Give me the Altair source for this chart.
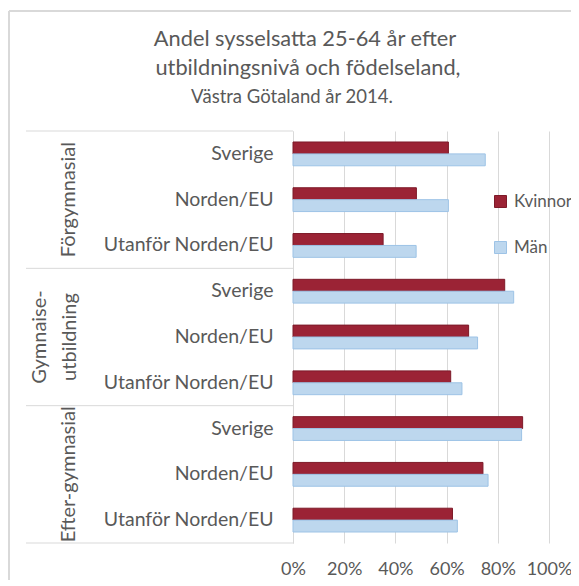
import altair as alt
import pandas as pd

groups = ["Förgymnasial", "Gymnaise-\nutbildning", "Efter-gymnasial"]
countries = ["Sverige", "Norden/EU", "Utanför Norden/EU"]
series = ["Kvinnor", "Män"]
kvinnor = [60.7, 48.2, 35.2, 82.7, 68.6, 61.6, 89.7, 74.2, 62.3]
man = [75.1, 60.7, 48.1, 86.2, 72.1, 66.0, 89.3, 76.2, 64.2]
x_ticks = [0, 20, 40, 60, 80, 100]
title_lines = ["Andel sysselsatta 25-64 år efter", "utbildningsnivå och födelseland,"]
subtitle_line = "Västra Götaland år 2014."

fills = ["#9B2335", "#BDD7EE"]
strokes = ["#7D1A29", "#9DC3E6"]
TXT = "#595959"
GRID = "#d9d9d9"
FONT = "Lato"

rows = []
keys = []
for gi, g in enumerate(groups):
    for ci, c in enumerate(countries):
        key = f"{gi}|{c}"
        keys.append(key)
        idx = gi * len(countries) + ci
        rows.append({"key": key, "series": series[0], "value": kvinnor[idx]})
        rows.append({"key": key, "series": series[1], "value": man[idx]})
df = pd.DataFrame(rows)

n = len(countries)
bounds_df = pd.DataFrame({"pos": [i * n for i in range(len(groups) + 1)]})
mid_df = pd.DataFrame({"mid": [i * n + n / 2 for i in range(len(groups))], "label": groups})
gscale = alt.Scale(domain=[0, len(keys)], reverse=True, nice=False, zero=False)

W, H = 256, 412

leg = alt.Legend(orient="none", legendX=199, legendY=62, title=None,
                 symbolType="square", symbolSize=144, labelFontSize=17,
                 labelFont=FONT, labelColor=TXT, rowPadding=28, padding=0,
                 labelOffset=5, symbolStrokeWidth=1, labelLimit=400)

bars = alt.Chart(df).mark_bar(strokeWidth=1).encode(
    x=alt.X("value:Q", scale=alt.Scale(domain=[0, 100], nice=False),
            axis=alt.Axis(title=None, values=x_ticks, labelExpr="datum.value + '%'",
                          grid=True, gridColor=GRID, gridWidth=1, domain=False, ticks=False,
                          labelPadding=17, labelFontSize=18, labelFont=FONT, labelColor=TXT,
                          labelFlush=False)),
    y=alt.Y("key:N", sort=keys, scale=alt.Scale(paddingInner=0.48, paddingOuter=0.24),
            axis=alt.Axis(title=None, labelExpr="split(datum.label, '|')[1]", ticks=False,
                          domain=True, domainColor=GRID, domainWidth=1, labelPadding=20,
                          labelFontSize=19.5, labelFont=FONT, labelColor=TXT, labelLimit=400)),
    yOffset=alt.YOffset("series:N", sort=series, scale=alt.Scale(paddingInner=0, paddingOuter=0)),
    color=alt.Color("series:N", scale=alt.Scale(domain=series, range=fills), legend=leg),
    stroke=alt.Stroke("series:N", scale=alt.Scale(domain=series, range=strokes), legend=leg),
)

table_lines = alt.Chart(bounds_df).mark_rule(color=GRID, strokeWidth=1).encode(
    y=alt.Y("pos:Q", scale=gscale, axis=None),
    x=alt.value(-267), x2=alt.value(0),
)

def group_labels(cond, xpos):
    return alt.Chart(mid_df).transform_filter(cond).mark_text(
        angle=270, baseline="bottom", align="center", fontSize=20, font=FONT, color=TXT,
        lineBreak="\n", lineHeight=30,
    ).encode(
        y=alt.Y("mid:Q", scale=gscale, axis=None),
        x=alt.value(xpos),
        text="label:N",
    )

g_single = group_labels("indexof(datum.label, '\\n') < 0", -214)
g_multi = group_labels("indexof(datum.label, '\\n') >= 0", -243)

def tline(txt, x, y, size):
    return alt.Chart(alt.Data(values=[{"t": txt}])).mark_text(
        fontSize=size, font=FONT, color=TXT, align="center", baseline="middle"
    ).encode(text="t:N", x=alt.value(x), y=alt.value(y))

t1 = tline(title_lines[0], 12, -92, 21.8)
t2 = tline(title_lines[1], 15, -63, 21.8)
t3 = tline(subtitle_line, -1, -34, 18.5)

border_v = alt.Chart(alt.Data(values=[{}])).mark_rule(color=GRID, strokeWidth=2).encode(
    x=alt.value(-284), y=alt.value(-120), y2=alt.value(460))
border_h = alt.Chart(alt.Data(values=[{}])).mark_rule(color=GRID, strokeWidth=2).encode(
    y=alt.value(-120), x=alt.value(-284), x2=alt.value(300))

chart = alt.layer(border_v, border_h, bars, table_lines, g_single, g_multi, t1, t2, t3).resolve_scale(
    y="independent"
).properties(
    width=W, height=H,
    padding={"left": 285, "top": 123, "right": 22, "bottom": 37},
    autosize=alt.AutoSizeParams(type="none"),
).configure_view(strokeOpacity=0)

chart.save("out.html", embed_options={"renderer": "svg", "actions": False})
